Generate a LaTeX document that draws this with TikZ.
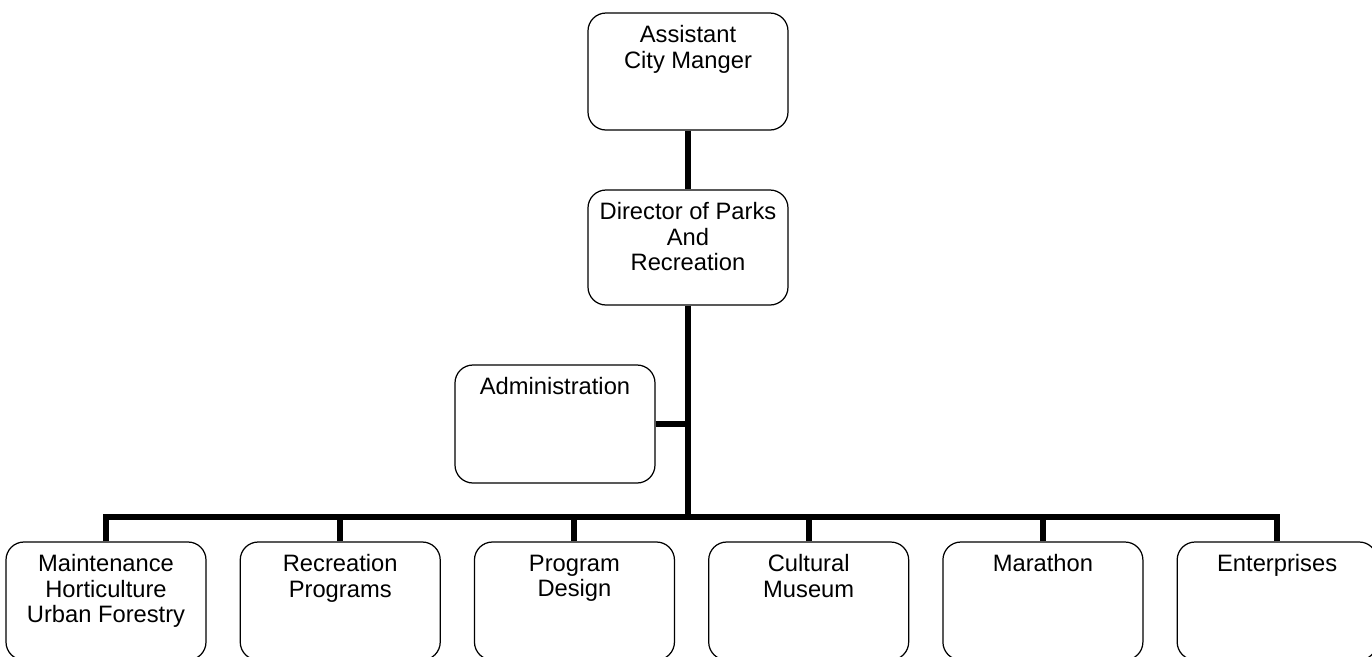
\documentclass[tikz,border=0pt]{standalone}
\usepackage{fontspec}
\setmainfont{Liberation Sans}
\usetikzlibrary{positioning}

\begin{document}
\begin{tikzpicture}[
    node distance=0.66cm,
    unit/.style={rectangle, draw, rounded corners=0.36cm, line width=0.7pt, minimum width=4cm, minimum height=2.34cm, inner sep=0pt},
    title/.style={anchor=north, align=center, inner sep=0pt, yshift=-0.26cm, font=\fontsize{13.5}{14.4}\selectfont},
    link/.style={line width=3.4pt}
]
\useasboundingbox (0,0) rectangle (27.44,-13.12);
\clip (0,0) rectangle (27.44,-13.12);
% Top
\node[unit, label={[title]north:Assistant\\City Manger}] (acm) at (13.76,-1.43) {};
% Director
\node[unit, minimum height=2.3cm, label={[title]north:Director of Parks\\And\\Recreation}] (director) at (13.76,-4.95) {};
% Administration
\node[unit, minimum height=2.36cm, label={[title]north:Administration}] (admin) at (11.1,-8.48) {};
% Divisions
\node[unit, minimum height=2.36cm, label={[title]north:Maintenance\\Horticulture\\Urban Forestry}] (maint) at (2.12,-12.02) {};
\node[unit, minimum height=2.36cm, right=of maint, label={[title]north:Recreation\\Programs}] (recprog) {};
\node[unit, minimum height=2.36cm, right=of recprog, label={[title]north:Program\\Design}] (design) {};
\node[unit, minimum height=2.36cm, right=of design, label={[title]north:Cultural\\Museum}] (museum) {};
\node[unit, minimum height=2.36cm, right=of museum, label={[title]north:Marathon}] (marathon) {};
\node[unit, minimum height=2.36cm, right=of marathon, label={[title]north:Enterprises}] (enterprises) {};
% Lines
\coordinate (hub) at (13.76,-10.34);
\draw[link] (acm) -- (director);
\draw[link] (director) -- (hub);
\draw[link] (admin.east) -- (admin.east -| hub);
\draw[link] (maint.north) |- (hub);
\draw[link] (recprog.north) |- (hub);
\draw[link] (design.north) |- (hub);
\draw[link] (museum.north) |- (hub);
\draw[link] (marathon.north) |- (hub);
\draw[link] (enterprises.north) |- (hub);
\end{tikzpicture}
\end{document}
